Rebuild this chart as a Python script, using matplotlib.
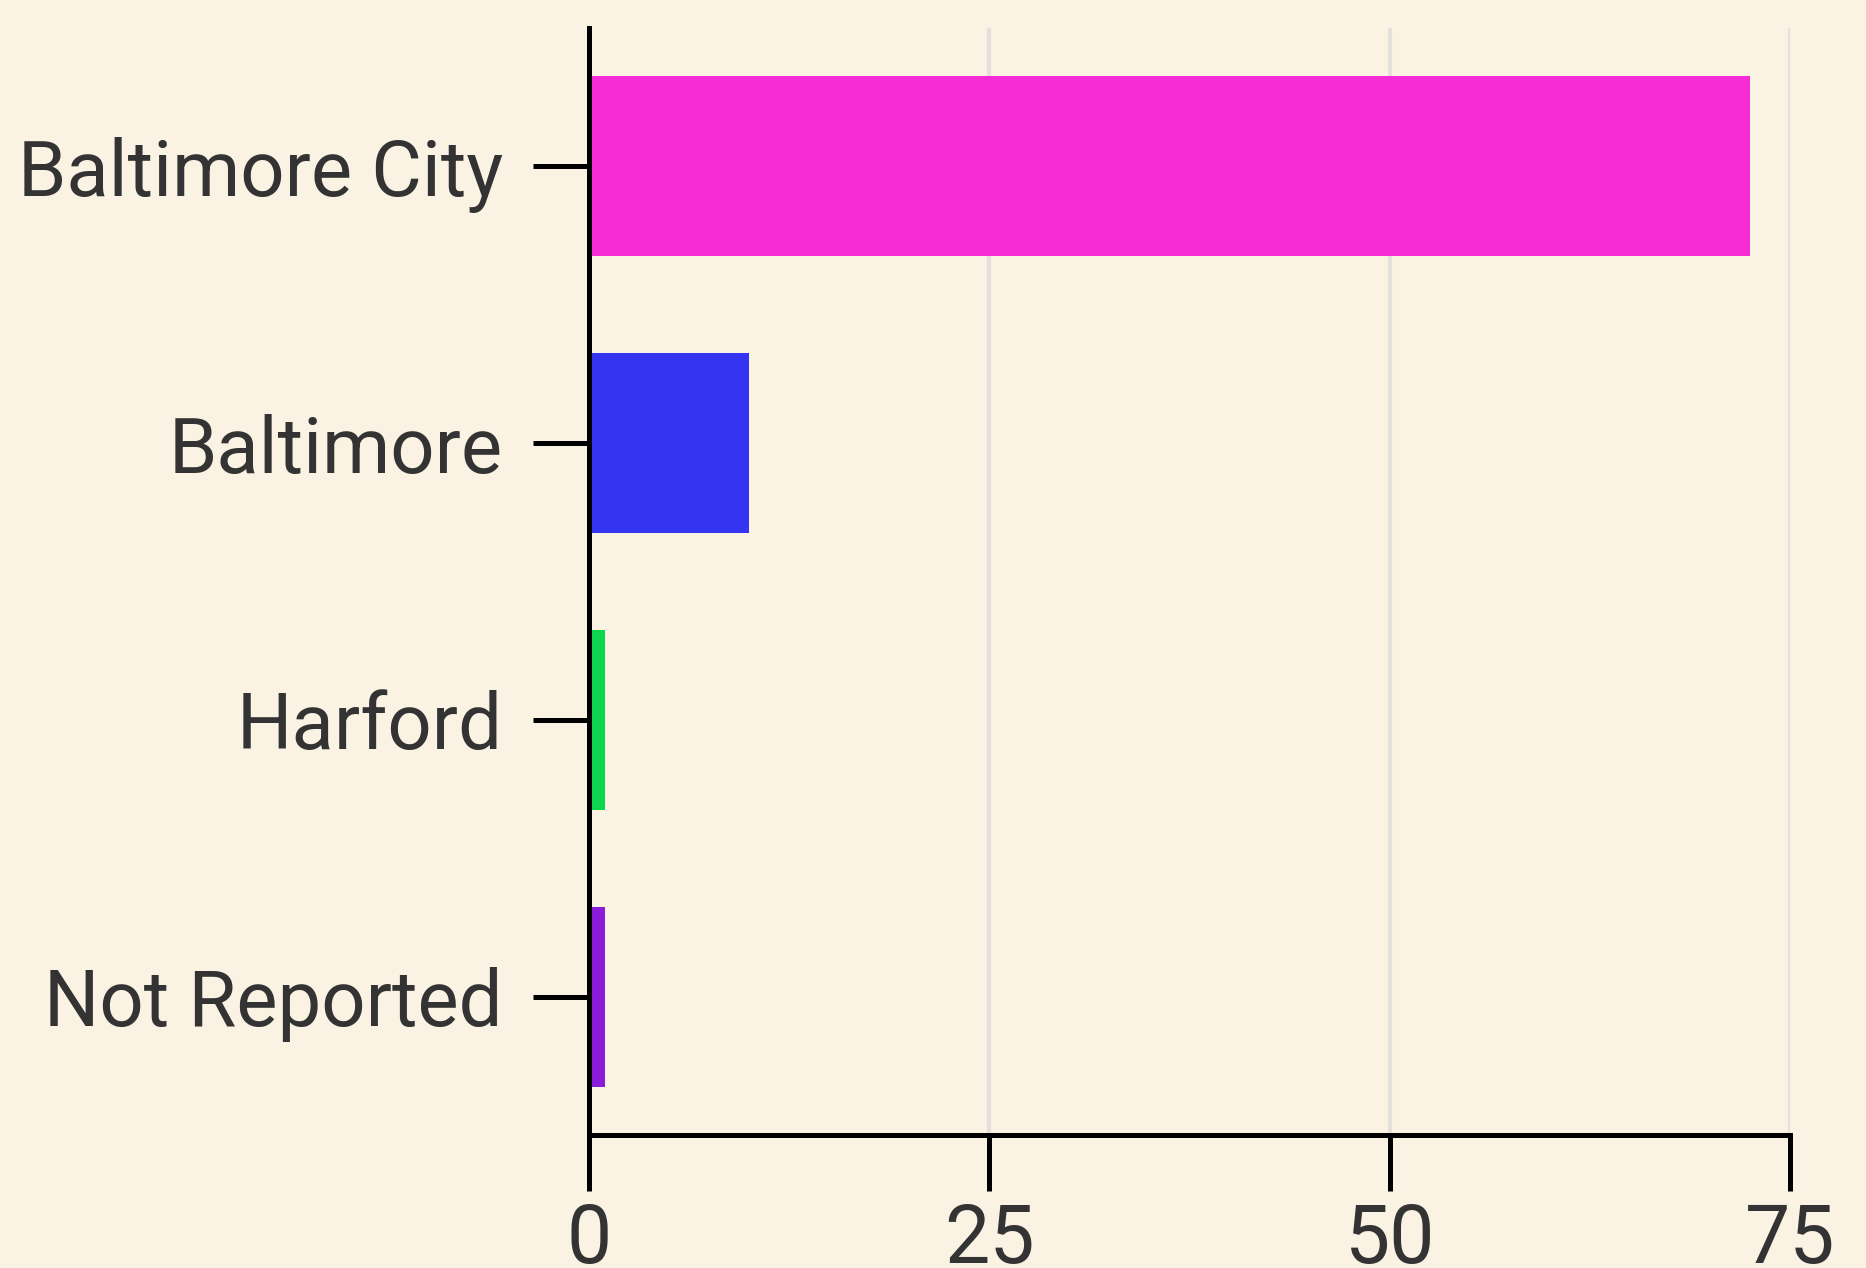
import matplotlib
matplotlib.use('Agg')
import matplotlib.pyplot as plt
import numpy as np

# data
counties = ['Baltimore City', 'Baltimore', 'Harford', 'Not Reported']
counts = [72.5, 10, 1, 1]
bar_colors = ['#f52bd6', '#3434f2', '#0cd64d', '#8a1cd9']
x_ticks = [0, 25, 50, 75]

bg = '#faf2e3'
plt.rcParams['font.family'] = ['Roboto', 'DejaVu Sans']

fig = plt.figure(figsize=(18.66, 12.68), dpi=100, facecolor=bg)
ax = fig.add_axes([0.3157, 0.1049, 0.9593 - 0.3157, 0.978 - 0.1049])
ax.set_facecolor(bg)

y = np.arange(len(counties))
ax.barh(y, counts, height=0.65, color=bar_colors, zorder=3)

ax.set_xlim(0, 75)
ax.set_ylim(len(counties) - 0.5, -0.5)
ax.set_yticks(y)
ax.set_yticklabels(counties)
ax.set_xticks(x_ticks)
ax.set_xticklabels([str(t) for t in x_ticks])

# vertical grid lines
ax.grid(axis='x', color='#e4e1dc', linewidth=3, zorder=0)
ax.set_axisbelow(True)

for side in ['top', 'right']:
    ax.spines[side].set_visible(False)
for side in ['left', 'bottom']:
    ax.spines[side].set_linewidth(3.6)
    ax.spines[side].set_color('black')
    ax.spines[side].set_zorder(4)

ax.tick_params(axis='y', length=40, width=3.6, pad=22, labelsize=56,
               labelcolor='#333333', color='black')
ax.tick_params(axis='x', length=40, width=3.6, pad=8, labelsize=58,
               labelcolor='#333333', color='black')

fig.savefig('out.png', dpi=100, facecolor=bg)
